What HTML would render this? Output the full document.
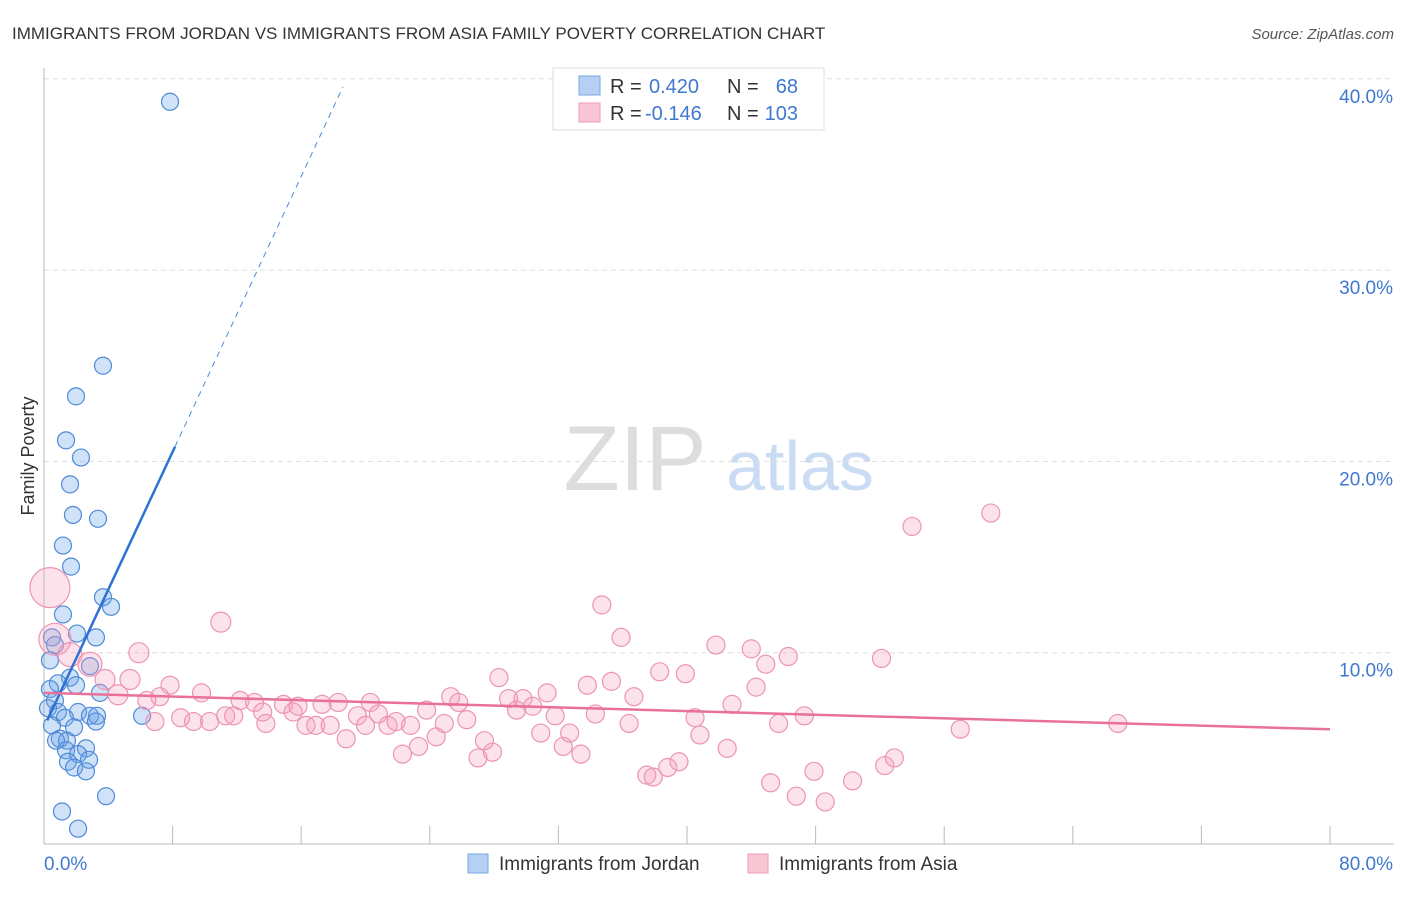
<!DOCTYPE html>
<html><head><meta charset="utf-8"><style>
body{margin:0;background:#fff;font-family:"Liberation Sans",sans-serif}
svg text{font-family:"Liberation Sans",sans-serif}
</style></head><body>
<svg id="c" width="1406" height="892">
<text x="12" y="39" font-size="17" fill="#333">IMMIGRANTS FROM JORDAN VS IMMIGRANTS FROM ASIA FAMILY POVERTY CORRELATION CHART</text>
<text x="1394" y="39" font-size="15" fill="#555" font-style="italic" text-anchor="end">Source: ZipAtlas.com</text>
<text x="34" y="456" font-size="18" fill="#333" text-anchor="middle" transform="rotate(-90 34 456)">Family Poverty</text>
<g><text x="635" y="490" font-size="92" fill="#ddd" font-family="Liberation Serif" text-anchor="middle">ZIP</text><text x="800" y="490" font-size="70" fill="#c9dcf3" text-anchor="middle">atlas</text></g>
<g id="grid"></g><g id="axes"></g><g id="pts"></g><g id="lines"></g>
<g>
<rect x="553" y="68" width="271" height="62" fill="#fff" stroke="#ddd"/>
<rect x="579" y="76" width="21" height="19" fill="#b5d0f3" stroke="#7aa7e0"/>
<rect x="579" y="103" width="21" height="19" fill="#f9c6d5" stroke="#f09ab5"/>
<text x="610" y="93" font-size="20" fill="#333">R =</text><text x="649" y="93" font-size="20" fill="#3f78d0">0.420</text>
<text x="727" y="93" font-size="20" fill="#333">N =</text><text x="798" y="93" font-size="20" fill="#3f78d0" text-anchor="end">68</text>
<text x="610" y="120" font-size="20" fill="#333">R =</text><text x="645" y="120" font-size="20" fill="#3f78d0">-0.146</text>
<text x="727" y="120" font-size="20" fill="#333">N =</text><text x="798" y="120" font-size="20" fill="#3f78d0" text-anchor="end">103</text>
</g>
<g>
<rect x="468" y="854" width="20" height="19" fill="#b5d0f3" stroke="#7aa7e0"/>
<text x="499" y="870" font-size="19" fill="#333">Immigrants from Jordan</text>
<rect x="748" y="854" width="20" height="19" fill="#f9c6d5" stroke="#f09ab5"/>
<text x="779" y="870" font-size="19" fill="#333">Immigrants from Asia</text>
</g>
</svg>
<script>
const jordanX=[7.84,3.67,1.99,1.37,2.3,1.62,1.8,3.36,1.18,1.68,3.67,4.17,1.18,2.05,3.23,0.5,0.68,0.37,2.86,1.62,0.87,1.99,0.37,3.48,0.68,0.25,0.87,2.12,2.86,3.3,6.1,1.3,3.23,0.5,1.87,0.99,1.43,0.75,2.61,1.37,2.12,2.8,1.49,1.87,2.61,3.86,1.12,2.12];
const jordanY=[38.8,25.0,23.4,21.1,20.2,18.8,17.2,17.0,15.6,14.5,12.9,12.4,12.0,11.0,10.8,10.8,10.4,9.6,9.3,8.7,8.4,8.3,8.1,7.9,7.5,7.1,6.9,6.9,6.7,6.7,6.7,6.6,6.4,6.2,6.1,5.5,5.4,5.4,5.0,4.9,4.7,4.4,4.3,4.0,3.8,2.5,1.7,0.8];
const asiaX=[0.37,0.68,1.62,2.86,3.8,5.35,4.6,5.9,11.0,7.84,7.2,6.4,6.9,8.5,9.3,9.8,10.3,11.3,11.8,12.2,13.1,13.8,13.6,14.9,15.5,15.8,16.3,16.9,17.3,17.8,18.3,18.8,19.5,20.0,20.3,20.8,21.4,21.9,22.3,22.8,23.3,23.8,24.4,24.9,25.3,25.8,26.3,27.0,27.4,27.9,28.3,28.9,29.4,29.8,30.4,30.9,31.3,31.8,32.3,32.7,33.4,33.8,34.3,34.7,35.3,35.9,36.4,36.7,37.5,37.9,38.3,38.8,39.5,39.9,40.5,40.8,41.8,42.5,42.8,44.0,44.3,44.9,45.2,45.7,46.3,46.8,47.3,47.9,48.6,50.3,52.1,52.3,52.9,54.0,57.0,58.9,66.8];
const asiaY=[13.4,10.7,9.9,9.4,8.6,8.6,7.8,10.0,11.6,8.3,7.7,7.5,6.4,6.6,6.4,7.9,6.4,6.7,6.7,7.5,7.4,6.3,6.9,7.3,6.9,7.2,6.2,6.2,7.3,6.2,7.4,5.5,6.7,6.2,7.4,6.8,6.2,6.4,4.7,6.2,5.1,7.0,5.6,6.3,7.7,7.4,6.5,4.5,5.4,4.8,8.7,7.6,7.0,7.6,7.2,5.8,7.9,6.7,5.1,5.8,4.7,8.3,6.8,12.5,8.5,10.8,6.3,7.7,3.6,3.5,9.0,4.0,4.3,8.9,6.6,5.7,10.4,5.0,7.3,10.2,8.2,9.4,3.2,6.3,9.8,2.5,6.7,3.8,2.2,3.3,9.7,4.1,4.5,16.6,6.0,17.3,6.3];
const asiaR=[20,16,12,12,10,10,10,10,10];
const yTicks=[10,20,30,40];
const xTickVals=[0,8,16,24,32,40,48,56,64,72,80];
const jordanTrend=[6.1,1.8]; // intercept, slope
const asiaTrend=[7.9,-0.0238];
const NS="http://www.w3.org/2000/svg";
const X=v=>44+v*1286/80, Y=v=>844-v*19.13;
function mk(t,a,p){const e=document.createElementNS(NS,t);for(const k in a)e.setAttribute(k,a[k]);document.getElementById(p).appendChild(e);return e;}
yTicks.forEach(t=>{
 const g=mk('line',{x1:44,x2:1394,y1:Y(t),y2:Y(t),stroke:'#ddd','stroke-dasharray':'5,4'},'grid');
 
 
 const l=mk('text',{x:1393,y:Y(t)+24,'font-size':19,fill:'#3f78d0','text-anchor':'end'},'grid');
 l.textContent=t.toFixed(1)+'%';
 
 
});
const ax=mk('line',{x1:44,x2:1394,y1:844,y2:844,stroke:'#bbb'},'axes');


const ay=mk('line',{x1:44,x2:44,y1:68,y2:844,stroke:'#bbb'},'axes');


xTickVals.forEach(t=>{
 const k=mk('line',{x1:X(t),x2:X(t),y1:826,y2:844,stroke:'#bbb'},'axes');
 
 
});
[[0,'start'],[80,'end']].forEach(([t,a])=>{
 const l=mk('text',{x:t==0?44:1393,y:870,'font-size':19,fill:'#3f78d0','text-anchor':a},'axes');
 l.textContent=t.toFixed(1)+'%';
 
 
});
jordanX.forEach((x,i)=>{
 const c=mk('circle',{cx:X(x),cy:Y(jordanY[i]),r:8.5,fill:'rgba(110,165,230,0.32)',stroke:'#4f8ad8','stroke-width':1.2},'pts');
 
 
});
asiaX.forEach((x,i)=>{
 const c=mk('circle',{cx:X(x),cy:Y(asiaY[i]),r:asiaR[i]||9,fill:'rgba(245,160,190,0.3)',stroke:'#ec94b2','stroke-width':1.2},'pts');
 
 
});
const jt=v=>jordanTrend[0]+jordanTrend[1]*v, at=v=>asiaTrend[0]+asiaTrend[1]*v;
const l1=mk('line',{x1:X(0.2),y1:Y(jt(0.2)),x2:X(8.15),y2:Y(jt(8.15)),stroke:'#2f72d6','stroke-width':2.5},'lines');


const l2=mk('line',{x1:X(8.15),y1:Y(jt(8.15)),x2:X(18.6),y2:Y(jt(18.6)),stroke:'#4f8ad8','stroke-width':1,'stroke-dasharray':'6,5'},'lines');


const l3=mk('line',{x1:X(0),y1:Y(at(0)),x2:X(80),y2:Y(at(80)),stroke:'#e8709a','stroke-width':2.5},'lines');


</script>
</body></html>
